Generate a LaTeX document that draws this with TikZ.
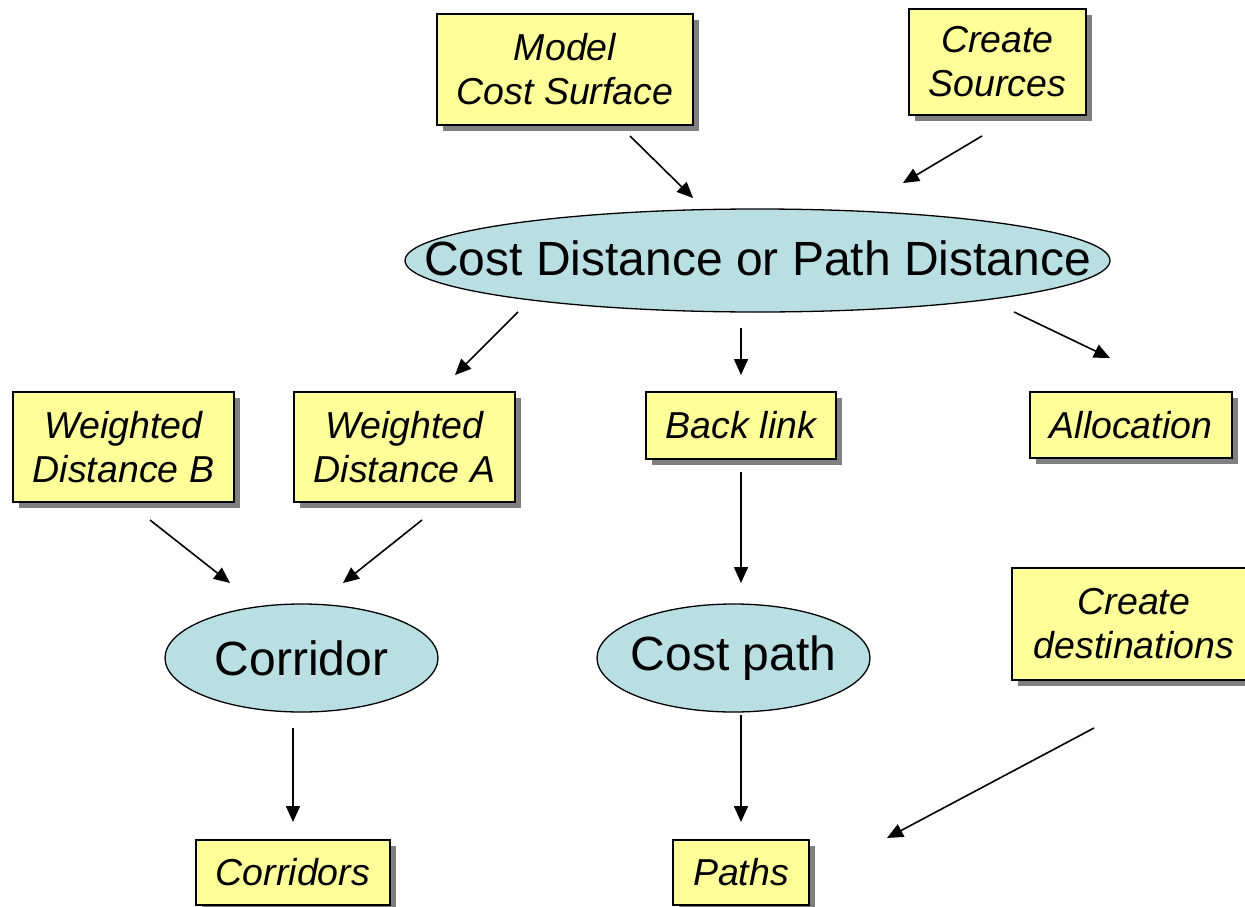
\documentclass[tikz,border=0pt]{standalone}
\usepackage{fontspec}
\setmainfont{Liberation Sans}
\usetikzlibrary{shadows,arrows.meta,shapes.geometric}
\definecolor{boxyellow}{HTML}{FFFF99}
\definecolor{ellblue}{HTML}{B9DFE3}
\definecolor{shadowgray}{HTML}{808080}
\tikzset{
  ybox/.style={draw=black, line width=1.3pt, fill=boxyellow, align=center,
    font=\fontsize{37.5}{44}\selectfont\itshape, inner sep=0pt,
    drop shadow={shadow xshift=6pt, shadow yshift=-6pt, fill=shadowgray, opacity=1}},
  bell/.style={ellipse, draw=black, line width=1.3pt, fill=ellblue, inner sep=0pt},
  etext/.style={font=\fontsize{48}{56}\selectfont, inner sep=0pt},
  conn/.style={line width=1.6pt, -{Triangle[length=16pt,width=14pt]}}
}
\begin{document}
\begin{tikzpicture}[x=1pt,y=-1pt]
\clip (0,0) rectangle (1245,907);
\fill[white] (0,0) rectangle (1245,907);
% boxes
\node[ybox, minimum width=256pt, minimum height=111pt] (model) at (565,69.5) {Model\\Cost Surface};
\node[ybox, minimum width=177pt, minimum height=106pt] (sources) at (997.5,62) {Create\\Sources};
\node[ybox, minimum width=221pt, minimum height=110pt] (wdb) at (123.5,447) {Weighted\\Distance B};
\node[ybox, minimum width=221pt, minimum height=110pt] (wda) at (404.5,447) {Weighted\\Distance A};
\node[ybox, minimum width=190pt, minimum height=67pt] (backlink) at (741,425.5) {Back link};
\node[ybox, minimum width=202pt, minimum height=66pt] (alloc) at (1131,425) {Allocation};
\node[ybox, minimum width=244pt, minimum height=112pt] (dest) at (1134,624) {Create\\destinations};
\node[ybox, minimum width=194pt, minimum height=65pt] (corridors) at (293,872.5) {Corridors};
\node[ybox, minimum width=136pt, minimum height=65pt] (paths) at (741,872.5) {Paths};
% ellipses
\node[bell, minimum width=705pt, minimum height=103pt] (cost) at (757.5,260.5) {};
\node[etext] (costtext) at ([yshift=2pt]cost.center) {Cost Distance or Path Distance};
\node[bell, minimum width=273pt, minimum height=108pt] (corridor) at (301.5,658) {};
\node[etext] (corridortext) at (corridor) {Corridor};
\node[bell, minimum width=273pt, minimum height=108pt] (costpath) at (733.5,658) {};
\node[etext] (costpathtext) at (costpath) {Cost path};
% connector end points
\coordinate (a1) at (630,136); \coordinate (a2) at (693,198);
\coordinate (b1) at (982,136); \coordinate (b2) at (903,183);
\coordinate (c1) at (518,312); \coordinate (c2) at (455,375);
\coordinate (d1) at (741,328); \coordinate (d2) at (741,375);
\coordinate (e1) at (1014,312); \coordinate (e2) at (1110,358);
\coordinate (f1) at (150,520); \coordinate (f2) at (230,583);
\coordinate (g1) at (422,520); \coordinate (g2) at (343,583);
\coordinate (h1) at (741,472); \coordinate (h2) at (741,583);
\coordinate (i1) at (293,728); \coordinate (i2) at (293,822);
\coordinate (j1) at (741,715); \coordinate (j2) at (741,822);
\coordinate (k1) at (1094,728); \coordinate (k2) at (887,838);
\draw[conn] (a1) -- (a2);
\draw[conn] (b1) -- (b2);
\draw[conn] (c1) -- (c2);
\draw[conn] (d1) -- (d2);
\draw[conn] (e1) -- (e2);
\draw[conn] (f1) -- (f2);
\draw[conn] (g1) -- (g2);
\draw[conn] (h1) -- (h2);
\draw[conn] (i1) -- (i2);
\draw[conn] (j1) -- (j2);
\draw[conn] (k1) -- (k2);
\end{tikzpicture}
\end{document}
